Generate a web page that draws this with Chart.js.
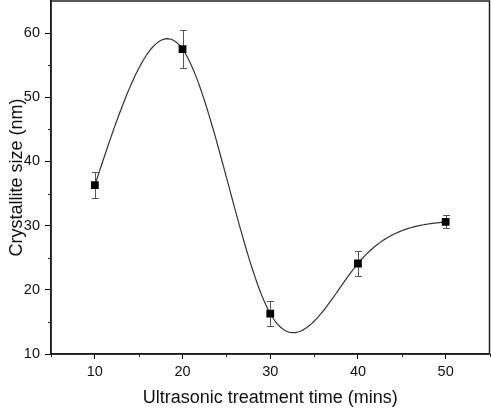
<!DOCTYPE html>
<html>
<head>
<meta charset="utf-8">
<script src="https://cdn.jsdelivr.net/npm/chart.js@4/dist/chart.umd.min.js"></script>
<style>
  html, body { margin: 0; padding: 0; background: #fff; }
  canvas { display: block; }
</style>
</head>
<body>
<canvas id="myChart" width="491" height="409"></canvas>
<script>
// data
const times = [10, 20, 30, 40, 50]
const sizes = [36.3, 57.5, 16.3, 24.1, 30.6]
const errors = [2.0, 3.0, 2.0, 2.0, 1.0]
const xTicks = [10, 20, 30, 40, 50]
const yTicks = [10, 20, 30, 40, 50, 60]

const font = 'Liberation Sans, Arial, sans-serif'

// natural cubic spline second derivatives (the Origin "spline" connector)
const splineM = (xs, ys) => {
    const n = xs.length
    const a = new Array(n).fill(0), b = new Array(n).fill(1), c = new Array(n).fill(0), d = new Array(n).fill(0)
    for (let i = 1; i < n - 1; i++) {
        const h0 = xs[i] - xs[i - 1], h1 = xs[i + 1] - xs[i]
        a[i] = h0; b[i] = 2 * (h0 + h1); c[i] = h1
        d[i] = 6 * ((ys[i + 1] - ys[i]) / h1 - (ys[i] - ys[i - 1]) / h0)
    }
    for (let i = 1; i < n; i++) {
        const w = a[i] / b[i - 1]
        b[i] -= w * c[i - 1]; d[i] -= w * d[i - 1]
    }
    const m = new Array(n).fill(0)
    m[n - 1] = d[n - 1] / b[n - 1]
    for (let i = n - 2; i >= 0; i--) m[i] = (d[i] - c[i] * m[i + 1]) / b[i]
    return m
}

// smooth connecting line, drawn through the scales
const splineLine = {
    id: 'splineLine',
    beforeDatasetsDraw(chart) {
        const { ctx, scales: { x, y } } = chart
        const m = splineM(times, sizes)
        ctx.save()
        ctx.strokeStyle = '#333'
        ctx.lineWidth = 1.2
        ctx.beginPath()
        for (let i = 0; i < times.length - 1; i++) {
            const h = times[i + 1] - times[i]
            for (let k = 0; k <= 40; k++) {
                const t = k / 40, A = 1 - t, B = t
                const xv = times[i] + t * h
                const yv = A * sizes[i] + B * sizes[i + 1] +
                    ((A * A * A - A) * m[i] + (B * B * B - B) * m[i + 1]) * h * h / 6
                const px = x.getPixelForValue(xv), py = y.getPixelForValue(yv)
                if (i === 0 && k === 0) ctx.moveTo(px, py); else ctx.lineTo(px, py)
            }
        }
        ctx.stroke()
        ctx.restore()
    }
}

// error bars, drawn under the square markers
const errorBars = {
    id: 'errorBars',
    beforeDatasetsDraw(chart) {
        const { ctx, scales: { x, y } } = chart
        ctx.save()
        ctx.strokeStyle = '#555'
        ctx.lineWidth = 1
        times.forEach((t, i) => {
            const px = Math.round(x.getPixelForValue(t)) + 0.5
            const top = Math.round(y.getPixelForValue(sizes[i] + errors[i])) + 0.5
            const bot = Math.round(y.getPixelForValue(sizes[i] - errors[i])) + 0.5
            ctx.beginPath()
            ctx.moveTo(px, top); ctx.lineTo(px, bot)
            ctx.moveTo(px - 3.5, top); ctx.lineTo(px + 3.5, top)
            ctx.moveTo(px - 3.5, bot); ctx.lineTo(px + 3.5, bot)
            ctx.stroke()
        })
        ctx.restore()
    }
}

// frame round the plot and short minor ticks
const frame = {
    id: 'frame',
    afterDraw(chart) {
        const { ctx, chartArea: a, scales: { x, y } } = chart
        ctx.save()
        ctx.strokeStyle = '#222'
        ctx.lineWidth = 1.5
        ctx.strokeRect(a.left, a.top, a.right - a.left, a.bottom - a.top)
        ctx.lineWidth = 1
        ctx.beginPath()
        for (let v = 5; v <= 55; v += 10) {
            const px = Math.round(x.getPixelForValue(v)) + 0.5
            ctx.moveTo(px, a.bottom); ctx.lineTo(px, a.bottom + 3)
        }
        for (let v = 15; v < 65; v += 10) {
            const py = Math.round(y.getPixelForValue(v)) + 0.5
            ctx.moveTo(a.left, py); ctx.lineTo(a.left - 3, py)
        }
        ctx.stroke()
        ctx.restore()
    }
}

const noPad = s => { s.paddingTop = 0; s.paddingBottom = 0; s.paddingLeft = 0; s.paddingRight = 0 }

const chart = new Chart(document.querySelector('#myChart'), {
    type: 'line',
    data: {
        datasets: [{
            data: times.map((t, i) => ({ x: t, y: sizes[i] })),
            showLine: false,
            pointStyle: 'rect',
            pointRadius: 5.5,
            pointBackgroundColor: '#000',
            pointBorderColor: '#000',
            pointBorderWidth: 0
        }]
    },
    options: {
        responsive: false,
        animation: false,
        devicePixelRatio: 1,
        layout: { autoPadding: false, padding: { top: 1, right: 1.5, left: 0, bottom: 0 } },
        plugins: { legend: { display: false }, tooltip: { enabled: false } },
        scales: {
            x: {
                type: 'linear',
                min: 5,
                max: 55,
                afterFit: s => { s.height = 55; noPad(s) },
                afterBuildTicks: s => { s.ticks = xTicks.map(v => ({ value: v })) },
                ticks: { color: '#111', font: { family: font, size: 14.5 }, padding: 4 },
                grid: { drawOnChartArea: false, tickLength: 5, tickWidth: 1, tickColor: '#000' },
                border: { color: '#000', width: 1.5 },
                title: {
                    display: true,
                    text: 'Ultrasonic treatment time (mins)',
                    color: '#111',
                    font: { family: font, size: 18 },
                    padding: { top: 0, bottom: 0 }
                }
            },
            y: {
                type: 'linear',
                min: 10,
                max: 65,
                afterFit: s => { s.width = 51; noPad(s) },
                afterBuildTicks: s => { s.ticks = yTicks.map(v => ({ value: v })) },
                ticks: { color: '#111', font: { family: font, size: 14.5 }, padding: 5 },
                grid: { drawOnChartArea: false, tickLength: 6, tickWidth: 1, tickColor: '#000' },
                border: { color: '#000', width: 1.5 },
                title: {
                    display: true,
                    text: 'Crystallite size (nm)',
                    color: '#111',
                    font: { family: font, size: 18 },
                    padding: { top: 6, bottom: 0 }
                }
            }
        }
    },
    plugins: [errorBars, splineLine, frame]
})
</script>
</body>
</html>
